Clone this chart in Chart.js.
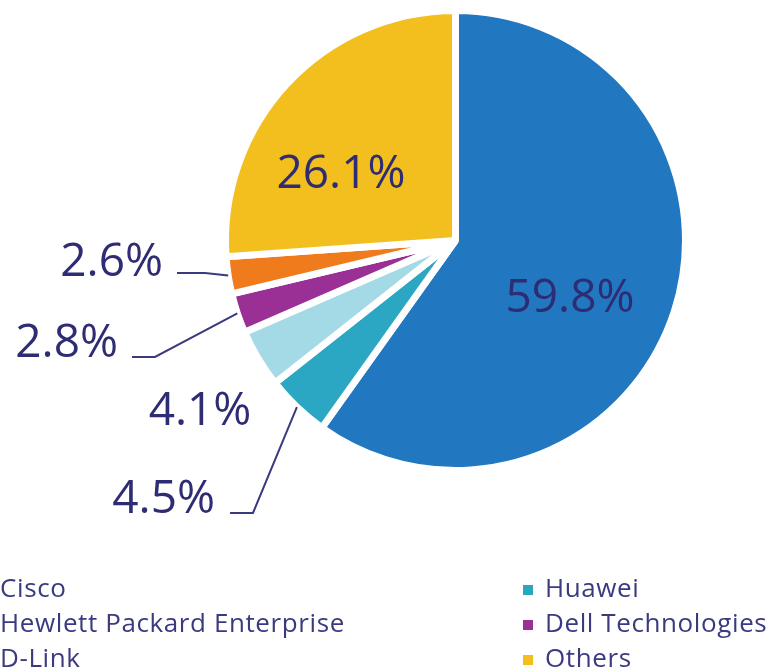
<!DOCTYPE html>
<html>
<head>
<meta charset="utf-8">
<script src="https://cdn.jsdelivr.net/npm/chart.js@4.4.1/dist/chart.umd.min.js"></script>
<style>
    body { margin: 0; background: #fff; overflow: hidden; }
    #wrap { position: relative; width: 772px; height: 670px; }
    #pie { position: absolute; left: 0; top: 0; }
    .legend-item {
        position: absolute;
        font-family: 'Open Sans', sans-serif;
        font-size: 26px;
        letter-spacing: 0.6px;
        color: #3b3a80;
        white-space: nowrap;
        line-height: 34px;
    }
    .legend-item span.box {
        display: inline-block;
        width: 10px;
        height: 10px;
        margin-right: 12px;
        vertical-align: 2px;
    }
</style>
</head>
<body>
<div id="wrap">
    <canvas id="pie" width="772" height="670"></canvas>
</div>
<script>
const vendors = ['Cisco', 'Huawei', 'Hewlett Packard Enterprise', 'Dell Technologies', 'D-Link', 'Others'];
const shares = [59.8, 4.5, 4.1, 2.8, 2.6, 26.1];
const sliceColors = ['#2178c1', '#2ba7c4', '#a3dae6', '#9a2f96', '#f07b1c', '#f3bf1e'];

const TEXT_COLOR = '#2e2c72';

// where each percentage goes; leader lines are drawn from the slice edge
const labelPlacement = [
    { x: 570, y: 312, align: 'center' },
    { x: 215, y: 513, align: 'right', elbow: [253, 513], end: [230, 513] },
    { x: 200, y: 425, align: 'center' },
    { x: 118, y: 357, align: 'right', elbow: [155, 357], end: [132, 357] },
    { x: 163, y: 276, align: 'right', elbow: [205, 273], end: [177, 273] },
    { x: 341, y: 188, align: 'center' }
];

const pieLabels = {
    id: 'pieLabels',
    afterDatasetsDraw(chart) {
        const ctx = chart.ctx;
        const arcs = chart.getDatasetMeta(0).data;
        ctx.save();
        ctx.font = '46px "Open Sans"';
        ctx.fillStyle = TEXT_COLOR;
        ctx.strokeStyle = '#3b3a7e';
        ctx.lineWidth = 2;
        ctx.textBaseline = 'alphabetic';
        arcs.forEach((arc, i) => {
            const p = labelPlacement[i];
            if (p.elbow) {
                const mid = (arc.startAngle + arc.endAngle) / 2;
                const r = arc.outerRadius;
                ctx.beginPath();
                ctx.moveTo(arc.x + Math.cos(mid) * r, arc.y + Math.sin(mid) * r);
                ctx.lineTo(p.elbow[0], p.elbow[1]);
                ctx.lineTo(p.end[0], p.end[1]);
                ctx.stroke();
            }
            ctx.textAlign = p.align;
            ctx.fillText(shares[i].toFixed(1) + '%', p.x, p.y);
        });
        ctx.restore();
    }
};

new Chart(document.getElementById('pie'), {
    type: 'pie',
    data: {
        labels: vendors,
        datasets: [{
            data: shares,
            backgroundColor: sliceColors,
            borderColor: '#ffffff',
            borderWidth: 7
        }]
    },
    options: {
        responsive: false,
        animation: false,
        layout: { padding: { left: 222, right: 83, top: 7, bottom: 196 } },
        plugins: {
            legend: { display: false },
            tooltip: { enabled: false }
        }
    },
    plugins: [pieLabels]
});

// two-column legend, left column runs off the page edge like the original
const wrap = document.getElementById('wrap');
vendors.forEach((name, i) => {
    const item = document.createElement('div');
    item.className = 'legend-item';
    const col = i % 2;
    const row = Math.floor(i / 2);
    item.style.left = col === 0 ? '-22px' : '523px';
    item.style.top = (570 + row * 35) + 'px';
    item.innerHTML = `<span class="box" style="background:${sliceColors[i]}"></span>${name}`;
    wrap.appendChild(item);
});
</script>
</body>
</html>
